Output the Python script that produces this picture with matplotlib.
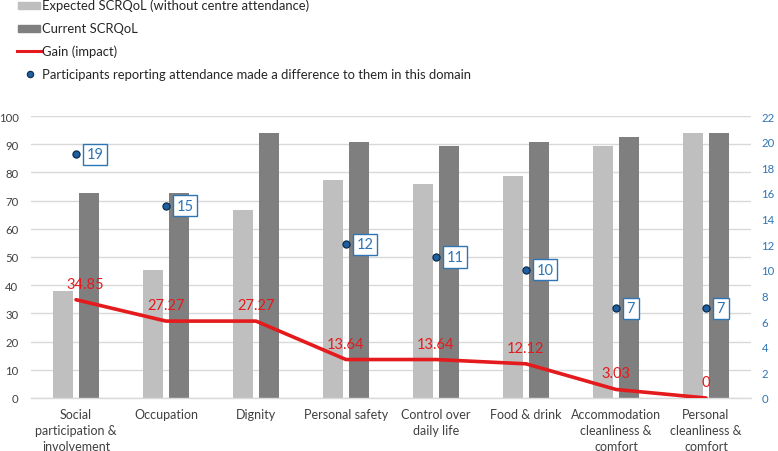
import matplotlib
matplotlib.use("Agg")
import matplotlib.pyplot as plt
from matplotlib.patches import Rectangle
from matplotlib.lines import Line2D
import numpy as np

plt.rcParams['font.family'] = ['Lato', 'DejaVu Sans']

categories = ["Social\nparticipation &\ninvolvement", "Occupation", "Dignity",
              "Personal safety", "Control over\ndaily life", "Food & drink",
              "Accommodation\ncleanliness &\ncomfort", "Personal\ncleanliness &\ncomfort"]
expected = [37.88, 45.45, 66.67, 77.27, 75.76, 78.79, 89.39, 93.94]
current = [72.73, 72.73, 93.94, 90.91, 89.39, 90.91, 92.42, 93.94]
gain = [34.85, 27.27, 27.27, 13.64, 13.64, 12.12, 3.03, 0]
gain_labels = ["34.85", "27.27", "27.27", "13.64", "13.64", "12.12", "3.03", "0"]
participants_shown = [19, 15, None, 12, 11, 10, 7, 7]
left_ticks = list(range(0, 101, 10))
right_ticks = list(range(0, 23, 2))

W, H = 778, 452
fig = plt.figure(figsize=(W / 100, H / 100), dpi=100)
ax = fig.add_axes([31 / W, 1 - 399 / H, (751 - 31) / W, (399 - 117) / H])
ax2 = ax.twinx()

light = "#BFBFBF"
dark = "#7F7F7F"
red = "#E41A1C"
blue_txt = "#2E75B6"

x = np.arange(len(categories))
bw = 0.222
off = 0.144
ax.bar(x - off, expected, bw, color=light, zorder=2)
ax.bar(x + off, current, bw, color=dark, zorder=2)
ax.plot(x, gain, color=red, lw=2.6, zorder=4, solid_capstyle='round')

for i, (g, lab) in enumerate(zip(gain, gain_labels)):
    dx = 9 if i == 0 else 0
    ax.annotate(lab, (x[i], g), xytext=(dx * 0.72, 11.5), textcoords='offset points',
                ha='center', va='center', color=red, fontsize=10.5, zorder=6)

ax.set_xlim(-0.5, len(categories) - 0.5)
ax.set_ylim(0, 100)
ax.set_yticks(left_ticks)
ax.set_xticks(x)
ax.set_xticklabels(categories, fontsize=9, color="#404040", linespacing=1.4)
ax.tick_params(axis='x', length=0, pad=7)
ax.tick_params(axis='y', length=0, pad=9, labelsize=8.2, labelcolor="#404040")
ax.grid(axis='y', color="#D9D9D9", lw=1, zorder=0)
ax.set_axisbelow(True)
for s in ['top', 'right', 'left']:
    ax.spines[s].set_visible(False)
ax.spines['bottom'].set_color("#D9D9D9")
ax.spines['bottom'].set_linewidth(1)

ax2.set_ylim(0, 22)
ax2.set_yticks(right_ticks)
ax2.tick_params(axis='y', length=0, pad=7.5, labelsize=8.2, labelcolor=blue_txt)
for s in ['top', 'right', 'left', 'bottom']:
    ax2.spines[s].set_visible(False)
px = [xi for xi, p in zip(x, participants_shown) if p is not None]
py = [p for p in participants_shown if p is not None]
ax2.scatter(px, py, s=26, color="#1F5F9F", edgecolor="#0D2B4A", linewidth=0.9, zorder=5)
for xi, p in zip(px, py):
    ax2.annotate(str(p), (xi, p), xytext=(7.5, 0), textcoords='offset points',
                 ha='left', va='center', color=blue_txt, fontsize=10.5, zorder=6,
                 bbox=dict(boxstyle='square,pad=0.25', fc='white', ec=blue_txt, lw=1))

# legend drawn manually
def fx(px_):
    return px_ / W

def fy(py_):
    return 1 - py_ / H

leg_fs = 9.4
rows = [6, 29, 52, 75]
fig.add_artist(Rectangle((fx(18), fy(9.5)), 22 / W, 7 / H, transform=fig.transFigure,
                         color=light))
fig.text(fx(42), fy(rows[0]), "Expected SCRQoL (without centre attendance)",
         fontsize=leg_fs, va='center', ha='left', color="#262626")
fig.add_artist(Rectangle((fx(18), fy(32.5)), 22 / W, 7 / H, transform=fig.transFigure,
                         color=dark))
fig.text(fx(42), fy(rows[1]), "Current SCRQoL", fontsize=leg_fs, va='center', ha='left',
         color="#262626")
fig.add_artist(Line2D([fx(17), fx(41)], [fy(rows[2]), fy(rows[2])],
                      transform=fig.transFigure, color=red, lw=2.2))
fig.text(fx(42), fy(rows[2]), "Gain (impact)", fontsize=leg_fs, va='center', ha='left',
         color="#262626")
fig.add_artist(Line2D([fx(29.5)], [fy(rows[3])], transform=fig.transFigure, marker='o',
                      ms=4.6, color="#1F5F9F", mec="#0D2B4A", mew=0.8, ls='none'))
fig.text(fx(42), fy(rows[3]),
         "Participants reporting attendance made a difference to them in this domain",
         fontsize=leg_fs, va='center', ha='left', color="#262626")

fig.savefig("out.png", dpi=100)
